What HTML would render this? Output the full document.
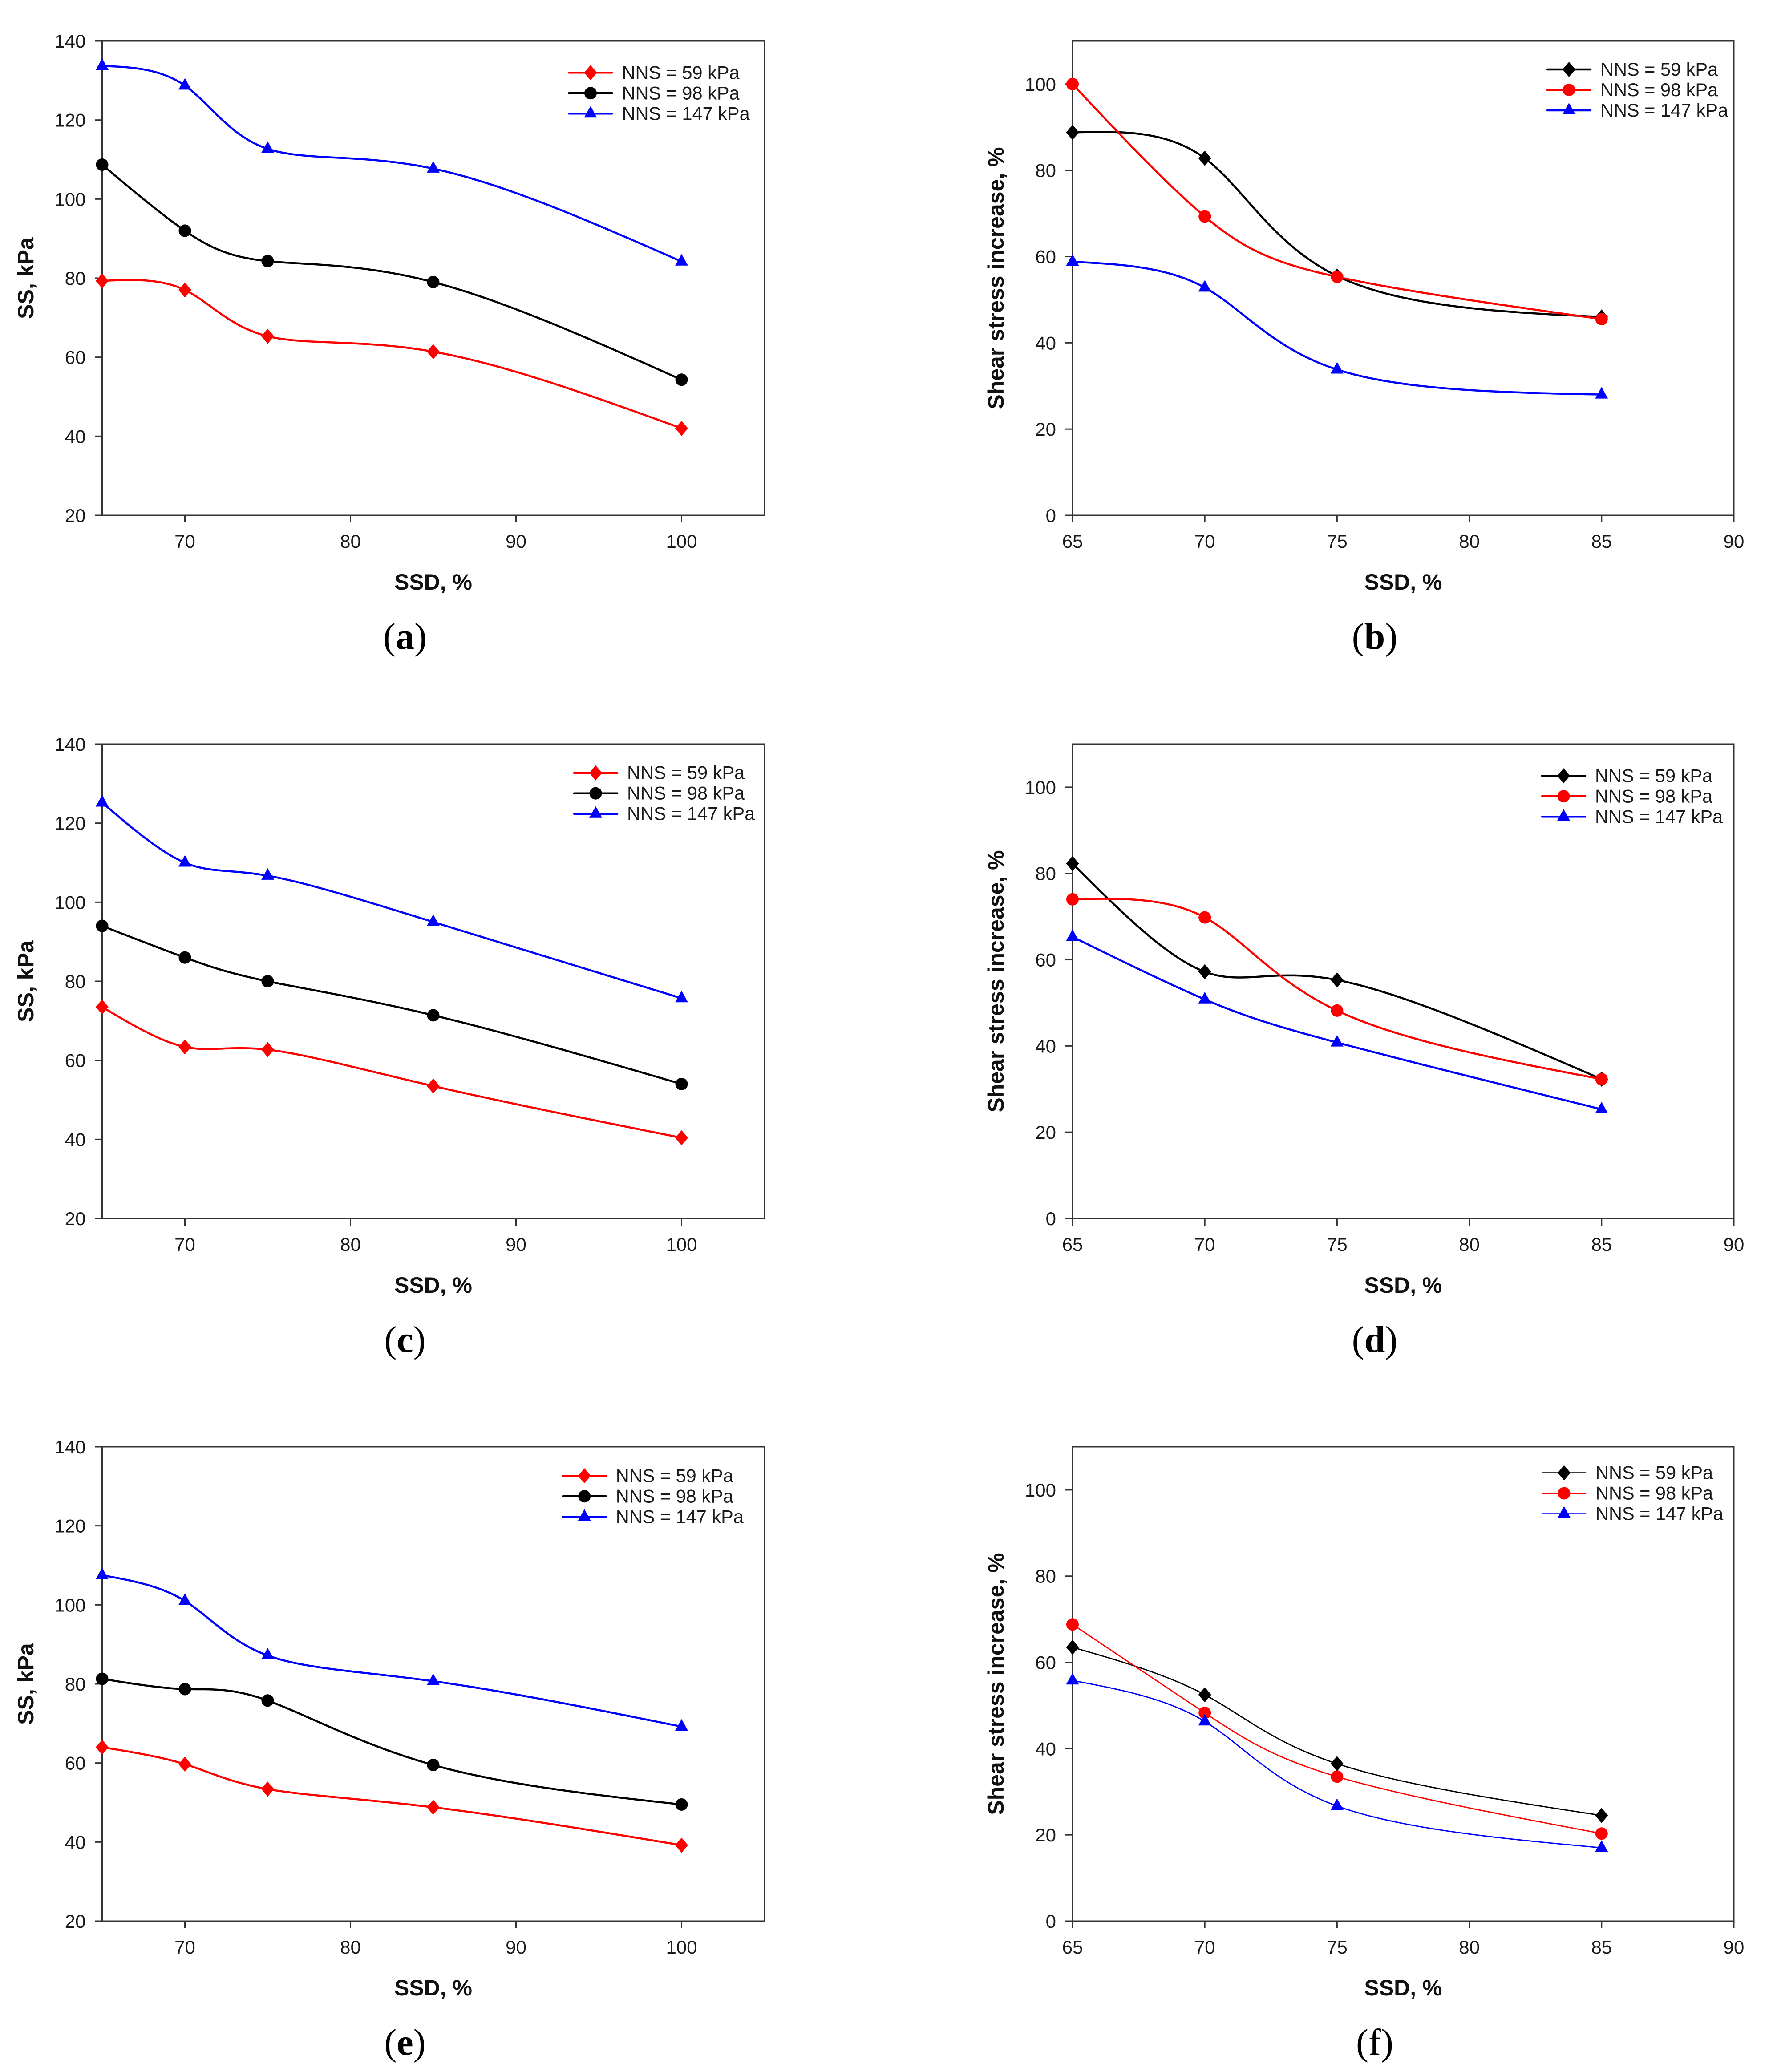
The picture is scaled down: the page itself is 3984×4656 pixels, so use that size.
<!DOCTYPE html>
<html lang="en">
<head>
<meta charset="utf-8">
<title>Shear stress versus SSD charts</title>
<style>
html,body{margin:0;padding:0;background:#fff;}
svg{display:block;}
text{font-family:"Liberation Sans",Arial,sans-serif;fill:#1a1a1a;}
.tick{font-size:42px;}
.legend{font-size:41.5px;}
.title{font-size:50px;font-weight:bold;fill:#111;}
.caption{font-family:"Liberation Serif","Times New Roman",serif;font-size:84px;fill:#000;}
</style>
</head>
<body>
<svg id="figure" xmlns="http://www.w3.org/2000/svg" width="3984" height="4656" viewBox="0 0 3984 4656">
<rect x="0" y="0" width="3984" height="4656" fill="#fff"/>
</svg>
<script>
// Shared categories
const ssdLong = [65, 70, 75, 85, 100];
const ssdShort = [65, 70, 75, 85];

// Tick labels
const ssTicks = [20, 40, 60, 80, 100, 120, 140];
const shearTicks = [0, 20, 40, 60, 80, 100];
const ssdLongTicks = [70, 80, 90, 100];
const ssdShortTicks = [65, 70, 75, 80, 85, 90];

// Series names
const legendLabels = ['NNS = 59 kPa', 'NNS = 98 kPa', 'NNS = 147 kPa'];

// Panel (a) SS, kPa
const a59 = [79.3, 77, 65.3, 61.4, 42];
const a98 = [108.7, 92, 84.3, 79, 54.3];
const a147 = [133.7, 128.7, 112.7, 107.7, 84.2];
// Panel (b) shear stress increase, %
const b59 = [88.8, 82.8, 55.5, 46];
const b98 = [100, 69.3, 55.3, 45.5];
const b147 = [58.8, 52.8, 33.8, 28];
// Panel (c) SS, kPa
const c59 = [73.5, 63.4, 62.7, 53.5, 40.4];
const c98 = [94, 86, 80, 71.4, 54];
const c147 = [125.2, 110, 106.7, 95, 75.7];
// Panel (d) shear stress increase, %
const d59 = [82.3, 57.2, 55.3, 32.3];
const d98 = [74, 69.8, 48.2, 32.3];
const d147 = [65.3, 50.8, 40.8, 25.3];
// Panel (e) SS, kPa
const e59 = [64, 59.7, 53.4, 48.8, 39.2];
const e98 = [81.3, 78.7, 75.8, 59.5, 49.5];
const e147 = [107.5, 101, 87.2, 80.7, 69.2];
// Panel (f) shear stress increase, %
const f59 = [63.5, 52.5, 36.5, 24.5];
const f98 = [68.8, 48.3, 33.5, 20.3];
const f147 = [55.8, 46.3, 26.7, 17];

const NS = 'http://www.w3.org/2000/svg';
const figure = document.getElementById('figure');

function make(parent, tag, attrs, text) {
  const node = document.createElementNS(NS, tag);
  for (const key in attrs) node.setAttribute(key, attrs[key]);
  if (text !== undefined) node.textContent = text;
  parent.appendChild(node);
  return node;
}

// Second derivatives of a natural cubic spline on a uniform parameter.
function uniformSecondDerivatives(v) {
  const n = v.length;
  const m = new Array(n).fill(0);
  const c = new Array(n).fill(0);
  const d = new Array(n).fill(0);
  for (let i = 1; i < n - 1; i++) {
    const den = 4 - c[i - 1];
    c[i] = 1 / den;
    d[i] = (6 * (v[i + 1] - 2 * v[i] + v[i - 1]) - d[i - 1]) / den;
  }
  for (let i = n - 2; i > 0; i--) m[i] = d[i] - c[i] * m[i + 1];
  return m;
}

// Parametric natural spline: x(t) and y(t) are splined over the point index.
function splinePath(xs, ys, sx, sy) {
  const mx = uniformSecondDerivatives(xs);
  const my = uniformSecondDerivatives(ys);
  const evalAt = (v, m, i, u) => {
    const A = 1 - u;
    const B = u;
    return A * v[i] + B * v[i + 1] + ((A * A * A - A) * m[i] + (B * B * B - B) * m[i + 1]) / 6;
  };
  let path = 'M' + sx(xs[0]).toFixed(2) + ' ' + sy(ys[0]).toFixed(2);
  for (let i = 0; i < xs.length - 1; i++) {
    const steps = 40;
    for (let k = 1; k <= steps; k++) {
      const u = k / steps;
      path += 'L' + sx(evalAt(xs, mx, i, u)).toFixed(2) + ' ' + sy(evalAt(ys, my, i, u)).toFixed(2);
    }
  }
  return path;
}

function drawMarker(parent, shape, cx, cy, color) {
  if (shape === 'diamond') {
    return make(parent, 'polygon', {points: cx + ',' + (cy - 17) + ' ' + (cx + 14.5) + ',' + cy + ' ' + cx + ',' + (cy + 17) + ' ' + (cx - 14.5) + ',' + cy, fill: color});
  }
  if (shape === 'circle') {
    return make(parent, 'circle', {cx: cx, cy: cy, r: 14, fill: color});
  }
  return make(parent, 'polygon', {points: cx + ',' + (cy - 17) + ' ' + (cx + 14.5) + ',' + (cy + 9) + ' ' + (cx - 14.5) + ',' + (cy + 9), fill: color});
}

function drawPanel(p) {
  const g = make(figure, 'g', {});
  
  

  const sx = v => p.left + (v - p.xMin) / (p.xMax - p.xMin) * (p.right - p.left);
  const sy = v => p.bottom - (v - p.yMin) / (p.yMax - p.yMin) * (p.bottom - p.top);

  const frame = make(g, 'rect', {x: p.left, y: p.top, width: p.right - p.left, height: p.bottom - p.top, fill: 'none', stroke: '#333', 'stroke-width': 3});
  
  

  p.yTicks.forEach(v => {
    const tick = make(g, 'line', {x1: p.left - 16, x2: p.left, y1: sy(v), y2: sy(v), stroke: '#333', 'stroke-width': 3});
    
    
    const label = make(g, 'text', {class: 'tick', x: p.left - 37, y: sy(v) + 15, 'text-anchor': 'end'}, String(v));
    
    
  });

  p.xTicks.forEach(v => {
    const tick = make(g, 'line', {x1: sx(v), x2: sx(v), y1: p.bottom, y2: p.bottom + 16, stroke: '#333', 'stroke-width': 3});
    
    
    const label = make(g, 'text', {class: 'tick', x: sx(v), y: p.bottom + 73, 'text-anchor': 'middle'}, String(v));
    
    
  });

  const xTitle = make(g, 'text', {class: 'title', x: (p.left + p.right) / 2, y: p.bottom + 167, 'text-anchor': 'middle'}, 'SSD, %');
  
  

  const midY = (p.top + p.bottom) / 2;
  const yTitle = make(g, 'text', {class: 'title', x: p.yTitleX, y: midY, 'text-anchor': 'middle', transform: 'rotate(-90 ' + p.yTitleX + ' ' + midY + ')'}, p.yTitle);
  
  

  p.series.forEach((s, i) => {
    const line = make(g, 'path', {d: splinePath(p.x, s.values, sx, sy), fill: 'none', stroke: s.color, 'stroke-width': p.lineWidth, 'stroke-linejoin': 'round'});
    
    
    s.values.forEach((v, j) => {
      const mark = drawMarker(g, s.shape, sx(p.x[j]), sy(v), s.color);
      
      
    });
  });

  p.series.forEach((s, i) => {
    const y = p.legendY + i * 46;
    const entry = make(g, 'g', {});
    
    
    const key = make(entry, 'line', {x1: p.legendX, x2: p.legendX + 97, y1: y, y2: y, stroke: s.color, 'stroke-width': p.lineWidth, 'stroke-linecap': 'round'});
    
    
    const keyMark = drawMarker(entry, s.shape, p.legendX + 48.5, y, s.color);
    
    
    const txt = make(entry, 'text', {class: 'legend', x: p.legendX + 119, y: y + 14}, legendLabels[i]);
    
    
  });

  const cap = make(g, 'text', {class: 'caption', x: p.capX, y: p.bottom + 300, 'text-anchor': 'middle'});
  
  
  make(cap, 'tspan', {}, '(');
  make(cap, 'tspan', {'font-weight': p.id === 'f' ? 'normal' : 'bold'}, p.id);
  make(cap, 'tspan', {}, ')');
}

function ssSeries(v59, v98, v147) {
  return [
    {key: '59-kpa', values: v59, color: '#ff0000', shape: 'diamond'},
    {key: '98-kpa', values: v98, color: '#000000', shape: 'circle'},
    {key: '147-kpa', values: v147, color: '#0000ff', shape: 'triangle'}
  ];
}
function shearSeries(v59, v98, v147) {
  return [
    {key: '59-kpa', values: v59, color: '#000000', shape: 'diamond'},
    {key: '98-kpa', values: v98, color: '#ff0000', shape: 'circle'},
    {key: '147-kpa', values: v147, color: '#0000ff', shape: 'triangle'}
  ];
}

function ssPanel(id, top, series, legendX, legendY) {
  return {id, series, legendX, legendY, top, bottom: top + 1066, left: 229.5, right: 1717.5,
    xMin: 65, xMax: 105, yMin: 20, yMax: 140, x: ssdLong, xTicks: ssdLongTicks, yTicks: ssTicks,
    yTitle: 'SS, kPa', yTitleX: 75, capX: 910, lineWidth: 4.5};
}
function shearPanel(id, top, series, legendX, legendY, lineWidth) {
  return {id, series, legendX, legendY, top, bottom: top + 1066, left: 2410, right: 3896,
    xMin: 65, xMax: 90, yMin: 0, yMax: 110, x: ssdShort, xTicks: ssdShortTicks, yTicks: shearTicks,
    yTitle: 'Shear stress increase, %', yTitleX: 2255, capX: 3089, lineWidth};
}

drawPanel(ssPanel('a', 92, ssSeries(a59, a98, a147), 1278.5, 163.3));
drawPanel(shearPanel('b', 92, shearSeries(b59, b98, b147), 3477, 156, 4.5));
drawPanel(ssPanel('c', 1672, ssSeries(c59, c98, c147), 1290, 1736.7));
drawPanel(shearPanel('d', 1672, shearSeries(d59, d98, d147), 3465, 1743.3, 4.5));
drawPanel(ssPanel('e', 3251, ssSeries(e59, e98, e147), 1264.7, 3316.3));
drawPanel(shearPanel('f', 3251, shearSeries(f59, f98, f147), 3466, 3309.6, 2.8));
</script>
</body>
</html>
